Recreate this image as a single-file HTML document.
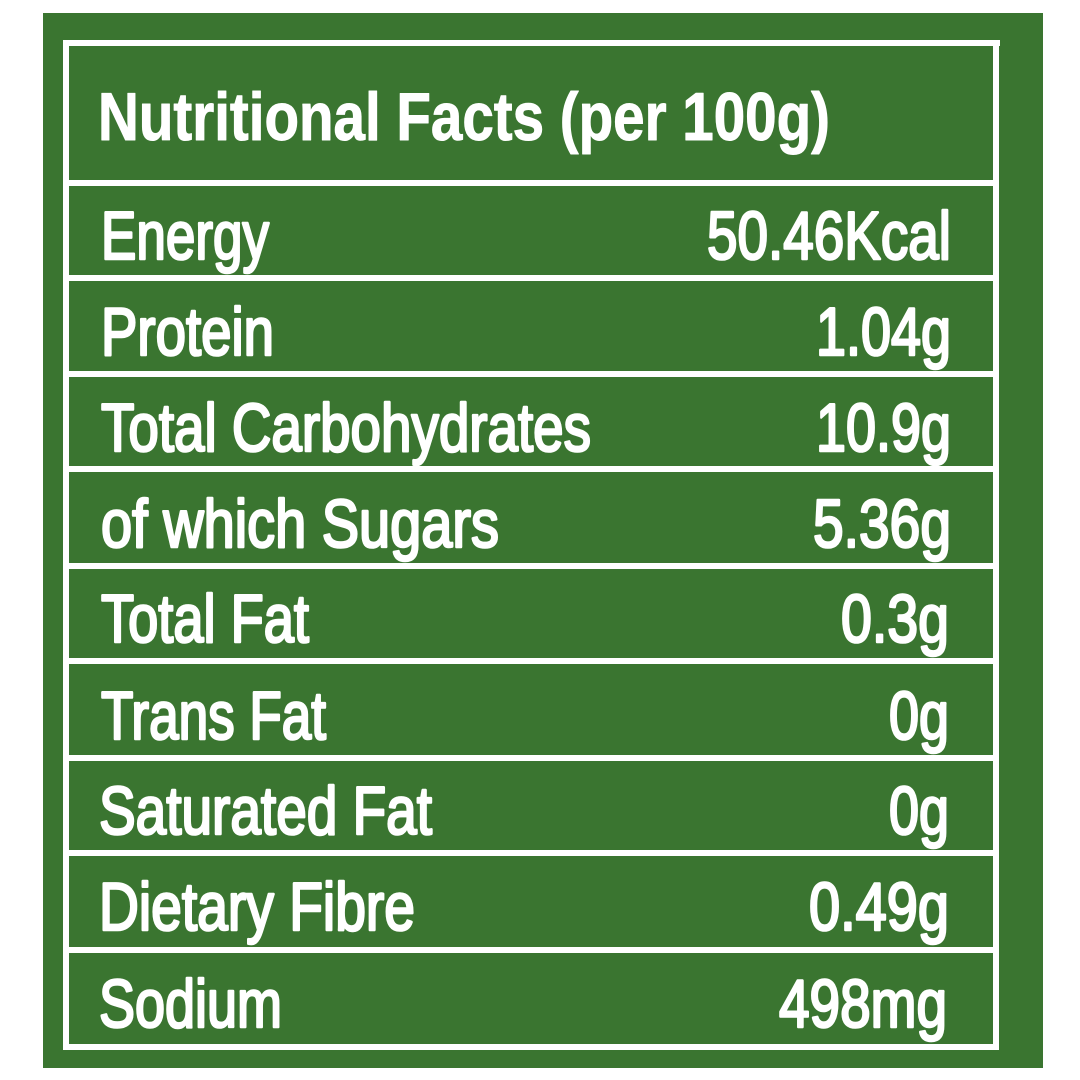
<!DOCTYPE html>
<html><head><style>
html,body{margin:0;padding:0;background:#fff;}
svg{display:block;}
text{font-family:"Liberation Sans",sans-serif;fill:#fff;}
</style></head><body>
<svg width="1080" height="1080" viewBox="0 0 1080 1080">
<rect x="0" y="0" width="1080" height="1080" fill="#fff"/>
<rect x="43" y="13" width="1000" height="1055" fill="#3a7530"/>
<g fill="#fff">
<rect x="63" y="40" width="937" height="6"/>
<rect x="63" y="40" width="6" height="1010"/>
<rect x="993" y="40" width="6" height="1010"/>
<rect x="63" y="1044" width="936" height="6"/>
<rect x="63" y="180" width="936" height="6"/>
<rect x="63" y="275" width="936" height="6"/>
<rect x="63" y="371" width="936" height="6"/>
<rect x="63" y="466" width="936" height="6"/>
<rect x="63" y="563" width="936" height="6"/>
<rect x="63" y="658" width="936" height="6"/>
<rect x="63" y="755" width="936" height="6"/>
<rect x="63" y="850" width="936" height="6"/>
<rect x="63" y="947" width="936" height="6"/>
</g>
<g font-size="68" stroke="#fff" stroke-width="2.6" stroke-linejoin="round">
<text x="98" y="140" font-weight="bold" stroke-width="1" textLength="732" lengthAdjust="spacingAndGlyphs">Nutritional Facts (per 100g)</text>
<text x="101" y="259" textLength="168" lengthAdjust="spacingAndGlyphs">Energy</text>
<text x="101" y="355" textLength="173" lengthAdjust="spacingAndGlyphs">Protein</text>
<text x="101" y="451" textLength="490" lengthAdjust="spacingAndGlyphs">Total Carbohydrates</text>
<text x="101" y="547" textLength="398" lengthAdjust="spacingAndGlyphs">of which Sugars</text>
<text x="101" y="642" textLength="208" lengthAdjust="spacingAndGlyphs">Total Fat</text>
<text x="101" y="739" textLength="225" lengthAdjust="spacingAndGlyphs">Trans Fat</text>
<text x="99" y="834" textLength="333" lengthAdjust="spacingAndGlyphs">Saturated Fat</text>
<text x="99" y="930" textLength="316" lengthAdjust="spacingAndGlyphs">Dietary Fibre</text>
<text x="99" y="1027" textLength="183" lengthAdjust="spacingAndGlyphs">Sodium</text>
<text x="707" y="259" textLength="244" lengthAdjust="spacingAndGlyphs">50.46Kcal</text>
<text x="816" y="355" textLength="135" lengthAdjust="spacingAndGlyphs">1.04g</text>
<text x="816" y="451" textLength="135" lengthAdjust="spacingAndGlyphs">10.9g</text>
<text x="813" y="547" textLength="138" lengthAdjust="spacingAndGlyphs">5.36g</text>
<text x="841" y="642" textLength="108" lengthAdjust="spacingAndGlyphs">0.3g</text>
<text x="889" y="739" textLength="60" lengthAdjust="spacingAndGlyphs">0g</text>
<text x="889" y="834" textLength="60" lengthAdjust="spacingAndGlyphs">0g</text>
<text x="809" y="930" textLength="140" lengthAdjust="spacingAndGlyphs">0.49g</text>
<text x="779" y="1027" textLength="168" lengthAdjust="spacingAndGlyphs">498mg</text>
</g>
</svg>
</body></html>
